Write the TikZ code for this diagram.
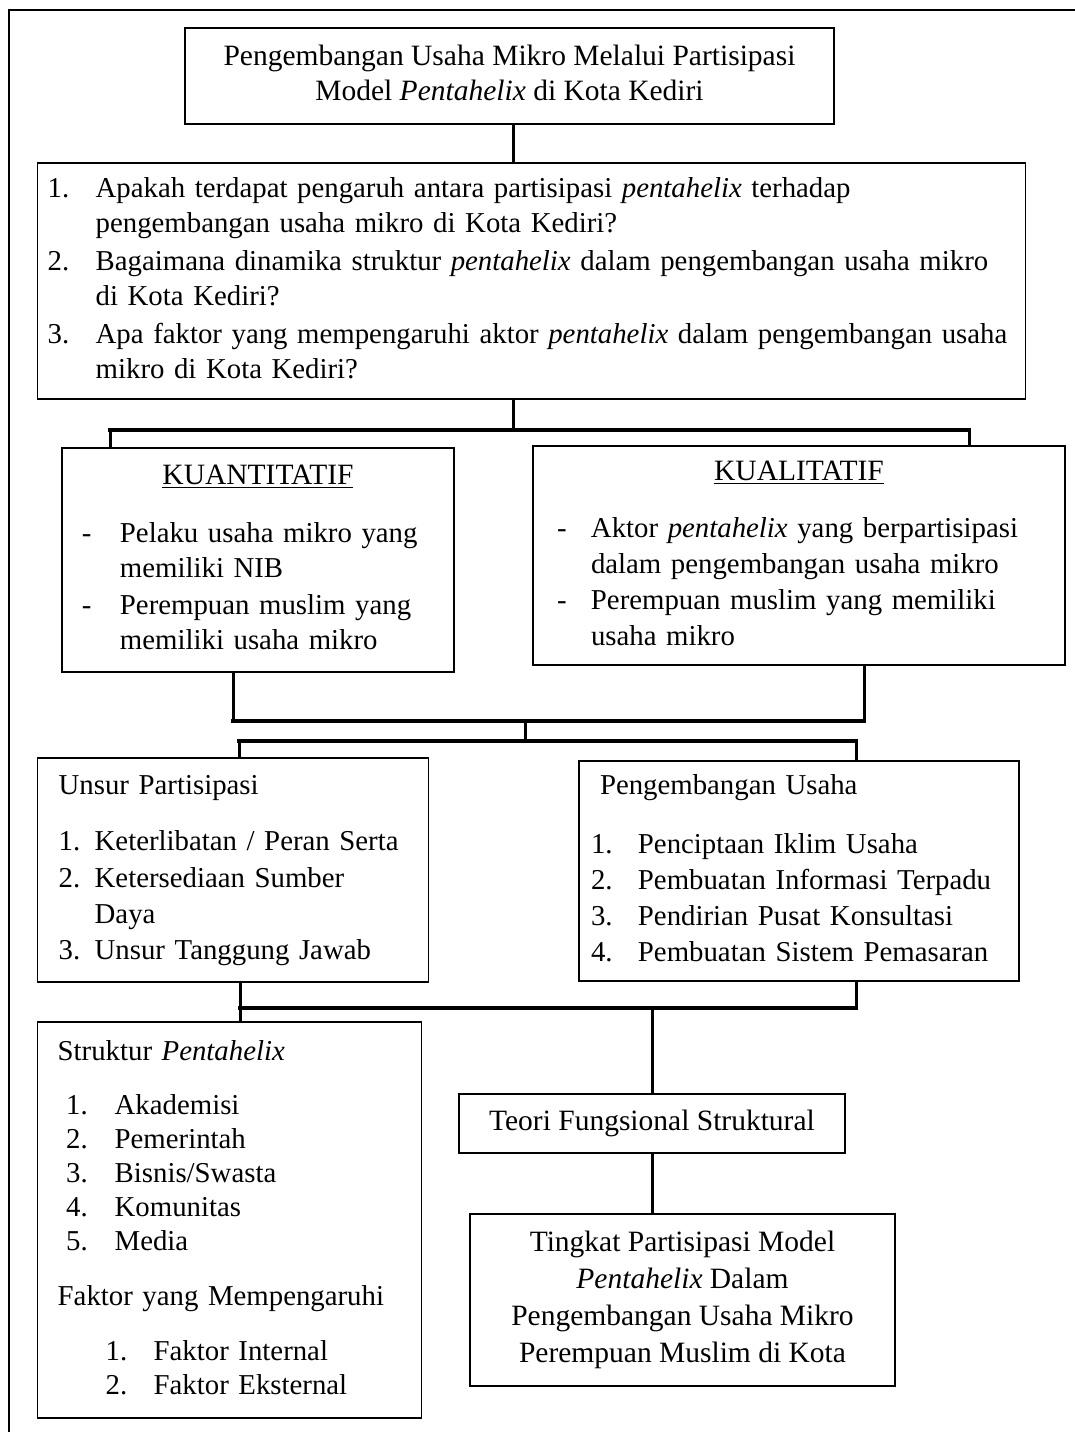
\documentclass[tikz,border=0pt]{standalone}
\usepackage{fontspec}
\setmainfont{Liberation Serif}
\usepackage{tikz}
\usetikzlibrary{calc}
\newcommand{\butir}[2]{\makebox[#1][l]{#2}}

\begin{document}
\begin{tikzpicture}[x=0.5pt, y=-0.5pt,
    kotak/.style={draw, line width=0.6pt, anchor=north west, inner ysep=0pt, outer sep=0pt, font=\fontsize{14.75}{17.5}\selectfont},
    daftar/.style={kotak, align=left, font=\fontsize{14.4}{17.5}\selectfont},
    garis/.style={line width=1.5pt},
    palang/.style={line width=1.75pt, line cap=rect}]
    \useasboundingbox (0,0) rectangle (1075,1432);
    \draw[line width=1pt] (1075,10) -- (8.7,10) -- (8.7,1432);
    \node[kotak, minimum width=324.5pt, minimum height=48pt] (judul) at (185,28) {\begin{tabular}{@{}c@{}}
        Pengembangan Usaha Mikro Melalui Partisipasi\\
        Model \emph{Pentahelix} di Kota Kediri
      \end{tabular}};
    \node[daftar, inner xsep=5pt, text width=484pt, minimum height=118pt] (soal) at (37.7,163) {\begin{tabular}{@{}l@{}}
        \butir{24pt}{1.}Apakah terdapat pengaruh antara partisipasi \emph{pentahelix} terhadap\\
        \hspace*{24pt}pengembangan usaha mikro di Kota Kediri?\\[1.5pt]
        \butir{24pt}{2.}Bagaimana dinamika struktur \emph{pentahelix} dalam pengembangan usaha mikro\\
        \hspace*{24pt}di Kota Kediri?\\[1.5pt]
        \butir{24pt}{3.}Apa faktor yang mempengaruhi aktor \emph{pentahelix} dalam pengembangan usaha\\
        \hspace*{24pt}mikro di Kota Kediri?
      \end{tabular}};
    \node[daftar, inner xsep=10pt, text width=176pt, minimum height=112pt] (kuan) at (62,448) {\begin{tabular}{@{}l@{}}
        \makebox[176pt]{\fontsize{14.75}{17.5}\selectfont\underline{KUANTITATIF}}\\[11.5pt]
        \butir{19pt}{-}Pelaku usaha mikro yang\\
        \hspace*{19pt}memiliki NIB\\[1pt]
        \butir{19pt}{-}Perempuan muslim yang\\
        \hspace*{19pt}memiliki usaha mikro
      \end{tabular}};
    \node[daftar, inner xsep=12pt, text width=242pt, minimum height=109.5pt] (kual) at (533,446) {\begin{tabular}{@{}l@{}}
        \makebox[242pt]{\fontsize{14.75}{17.5}\selectfont\underline{KUALITATIF}}\\[11pt]
        \butir{17pt}{-}Aktor \emph{pentahelix} yang berpartisipasi\\[0.5pt]
        \hspace*{17pt}dalam pengembangan usaha mikro\\[0.5pt]
        \butir{17pt}{-}Perempuan muslim yang memiliki\\[0.5pt]
        \hspace*{17pt}usaha mikro
      \end{tabular}};
    \node[daftar, inner xsep=10.5pt, text width=174.5pt, minimum height=112pt] (unsur) at (37.7,758) {\begin{tabular}{@{}l@{}}
        Unsur Partisipasi\\[10.5pt]
        \butir{18pt}{1.}Keterlibatan / Peran Serta\\[1pt]
        \butir{18pt}{2.}Ketersediaan Sumber\\[0.5pt]
        \hspace*{18pt}Daya\\[0.5pt]
        \butir{18pt}{3.}Unsur Tanggung Jawab
      \end{tabular}};
    \node[daftar, inner xsep=6pt, text width=208pt, minimum height=110pt] (usaha) at (579,761) {\begin{tabular}{@{}l@{}}
        \hspace*{4.5pt}Pengembangan Usaha\\[12pt]
        \butir{23.5pt}{1.}Penciptaan Iklim Usaha\\[0.5pt]
        \butir{23.5pt}{2.}Pembuatan Informasi Terpadu\\[0.5pt]
        \butir{23.5pt}{3.}Pendirian Pusat Konsultasi\\[0.5pt]
        \butir{23.5pt}{4.}Pembuatan Sistem Pemasaran
      \end{tabular}};
    \node[daftar, inner xsep=10pt, text width=172pt, minimum height=198pt] (struktur) at (37.7,1022) {\begin{tabular}{@{}l@{}}
        Struktur \emph{Pentahelix}\\[9.5pt]
        \hspace*{4.25pt}\butir{24.25pt}{1.}Akademisi\\[-0.5pt]
        \hspace*{4.25pt}\butir{24.25pt}{2.}Pemerintah\\[-0.5pt]
        \hspace*{4.25pt}\butir{24.25pt}{3.}Bisnis/Swasta\\[-0.5pt]
        \hspace*{4.25pt}\butir{24.25pt}{4.}Komunitas\\[-0.5pt]
        \hspace*{4.25pt}\butir{24.25pt}{5.}Media\\[10pt]
        Faktor yang Mempengaruhi\\[10pt]
        \hspace*{24pt}\butir{24pt}{1.}Faktor Internal\\[-0.5pt]
        \hspace*{24pt}\butir{24pt}{2.}Faktor Eksternal
      \end{tabular}};
    \node[kotak, minimum width=193pt, minimum height=29.5pt] (teori) at (459,1094) {Teori Fungsional Struktural};
    \node[kotak, minimum width=212.5pt, minimum height=86pt] (tingkat) at (470,1214) {\begin{tabular}{@{}c@{}}
        Tingkat Partisipasi Model\\[1pt]
        \emph{Pentahelix} Dalam\\[1pt]
        Pengembangan Usaha Mikro\\[1pt]
        Perempuan Muslim di Kota
      \end{tabular}};
    \coordinate (p0) at (513,430);
    \coordinate (p1) at (110,430);
    \coordinate (p2) at (969,430);
    \draw[garis] (judul.south -| p0) -- (soal.north -| p0);
    \draw[garis] (soal.south -| p0) -- (p0);
    \draw[garis] (p1) -- (p1 |- kuan.north);
    \draw[garis] (p2) -- (p2 |- kual.north);
    \draw[palang] (p1) -- (p2);
    \coordinate (q0) at (525,721);
    \coordinate (q1) at (233,721);
    \coordinate (q2) at (864,721);
    \coordinate (r0) at (525,741);
    \coordinate (r1) at (239,741);
    \coordinate (r2) at (856,741);
    \draw[garis] (kuan.south -| q1) -- (q1);
    \draw[garis] (kual.south -| q2) -- (q2);
    \draw[garis] (q0) -- (r0);
    \draw[garis] (r1) -- (r1 |- unsur.north);
    \draw[garis] (r2) -- (r2 |- usaha.north);
    \draw[palang] (q1) -- (q2);
    \draw[palang] (r1) -- (r2);
    \coordinate (s0) at (652,1008);
    \coordinate (s1) at (240,1008);
    \coordinate (s2) at (856,1008);
    \draw[garis] (unsur.south -| s1) -- (s1);
    \draw[garis] (usaha.south -| s2) -- (s2);
    \draw[garis] (s1) -- (s1 |- struktur.north);
    \draw[garis] (s0) -- (teori.north);
    \draw[garis] (teori.south) -- (teori.south |- tingkat.north);
    \draw[palang] (s1) -- (s2);
\end{tikzpicture}
\end{document}
